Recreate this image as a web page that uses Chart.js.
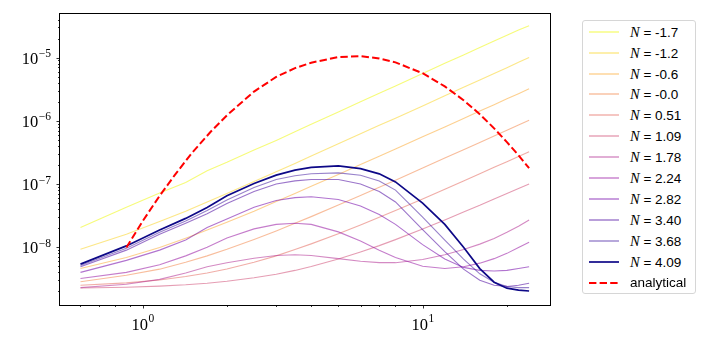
<!DOCTYPE html>
<html>
<head>
<meta charset="UTF-8">
<title>spectra</title>
<script src="https://cdn.jsdelivr.net/npm/chart.js"></script>
<style>
  body { margin: 0; background: #fff; }
  #wrap { position: relative; width: 709px; height: 346px; }
  #legend { position: absolute; left: 582px; top: 20px; width: 114px; height: 274px;
            border: 1px solid #d6d6d6; border-radius: 3px; background: #fff; box-sizing: border-box; }
  .row { position: absolute; left: 0; height: 20px; line-height: 20px; white-space: nowrap;
         font-family: "Liberation Sans", Arial, sans-serif; font-size: 13.5px; color: #000; }
  .row svg { position: absolute; left: 5px; top: 0; }
  .row span { position: absolute; left: 47px; }
  .row i { font-family: "Liberation Serif", serif; font-size: 14.5px; }
</style>
</head>
<body>
<div id="wrap">
  <canvas id="chart" width="709" height="346"></canvas>
  <div id="legend"></div>
</div>
<script>
// x positions shared by all N curves
const xValues = [0.6, 0.875, 1.15, 1.425, 1.7, 2.0, 2.5, 3.0, 3.5, 4.0, 5.0, 6.0, 7.0, 8.0, 10, 12, 14, 16, 18, 20, 22, 24];

const nLabels = ['-1.7', '-1.2', '-0.6', '-0.0', '0.51', '1.09', '1.78', '2.24', '2.82', '3.40', '3.68', '4.09'];

const yNm17 = [2.05e-8, 4.3e-8, 7.2e-8, 1.06e-7, 1.62e-7, 2.2e-7, 3.45e-7, 4.9e-7, 6.7e-7, 8.8e-7, 1.38e-6, 2.0e-6, 2.72e-6, 3.55e-6, 5.6e-6, 8.1e-6, 1.1e-5, 1.44e-5, 1.83e-5, 2.25e-5, 2.72e-5, 3.2e-5];
const yNm12 = [9.3e-9, 1.6e-8, 2.55e-8, 3.7e-8, 5.2e-8, 7.1e-8, 1.1e-7, 1.56e-7, 2.12e-7, 2.78e-7, 4.35e-7, 6.25e-7, 8.5e-7, 1.1e-6, 1.72e-6, 2.48e-6, 3.38e-6, 4.42e-6, 5.6e-6, 6.9e-6, 8.4e-6, 1.0e-5];
const yNm06 = [4.6e-9, 6.9e-9, 9.9e-9, 1.39e-8, 1.87e-8, 2.48e-8, 3.7e-8, 5.3e-8, 7.1e-8, 9.2e-8, 1.42e-7, 2.03e-7, 2.75e-7, 3.58e-7, 5.6e-7, 8.0e-7, 1.09e-6, 1.43e-6, 1.8e-6, 2.23e-6, 2.69e-6, 3.2e-6];
const yN00 = [2.85e-9, 3.6e-9, 4.5e-9, 5.8e-9, 7.3e-9, 9.3e-9, 1.33e-8, 1.81e-8, 2.39e-8, 3.05e-8, 4.65e-8, 6.6e-8, 8.9e-8, 1.15e-7, 1.79e-7, 2.57e-7, 3.49e-7, 4.55e-7, 5.75e-7, 7.1e-7, 8.6e-7, 1.02e-6];
const yN051 = [2.5e-9, 2.73e-9, 3.04e-9, 3.44e-9, 3.92e-9, 4.54e-9, 5.8e-9, 7.3e-9, 9.2e-9, 1.13e-8, 1.63e-8, 2.25e-8, 2.97e-8, 3.81e-8, 5.8e-8, 8.3e-8, 1.12e-7, 1.45e-7, 1.84e-7, 2.26e-7, 2.73e-7, 3.25e-7];
const yN109 = [2.26e-9, 2.33e-9, 2.43e-9, 2.55e-9, 2.7e-9, 2.9e-9, 3.3e-9, 3.75e-9, 4.3e-9, 4.95e-9, 6.5e-9, 8.4e-9, 1.06e-8, 1.32e-8, 1.94e-8, 2.7e-8, 3.6e-8, 4.6e-8, 5.8e-8, 7.1e-8, 8.5e-8, 1.0e-7];
const yN178 = [2.3e-9, 2.6e-9, 3.1e-9, 3.9e-9, 4.9e-9, 5.7e-9, 6.7e-9, 7.4e-9, 7.6e-9, 7.4e-9, 6.6e-9, 6.0e-9, 5.7e-9, 5.7e-9, 6.4e-9, 7.6e-9, 9.2e-9, 1.12e-8, 1.38e-8, 1.72e-8, 2.15e-8, 2.7e-8];
const yN224 = [3.2e-9, 4.0e-9, 5.3e-9, 7.3e-9, 1.0e-8, 1.4e-8, 1.95e-8, 2.3e-8, 2.4e-8, 2.3e-8, 1.75e-8, 1.25e-8, 9.0e-9, 6.9e-9, 5.0e-9, 4.6e-9, 4.9e-9, 5.6e-9, 6.6e-9, 8.0e-9, 9.9e-9, 1.2e-8];
const yN282 = [4.0e-9, 6.2e-9, 9.0e-9, 1.3e-8, 2.05e-8, 2.8e-8, 4.3e-8, 5.5e-8, 6.1e-8, 6.3e-8, 5.7e-8, 4.5e-8, 3.3e-8, 2.3e-8, 1.1e-8, 6.5e-9, 4.8e-9, 4.3e-9, 4.2e-9, 4.3e-9, 4.6e-9, 4.9e-9];
const yN340 = [4.9e-9, 9.0e-9, 1.6e-8, 2.4e-8, 3.4e-8, 4.9e-8, 7.6e-8, 1.0e-7, 1.12e-7, 1.18e-7, 1.18e-7, 1.0e-7, 7.6e-8, 5.2e-8, 1.9e-8, 8.5e-9, 4.5e-9, 3.0e-9, 2.5e-9, 2.4e-9, 2.5e-9, 2.7e-9];
const yN368 = [5.15e-9, 9.6e-9, 1.72e-8, 2.6e-8, 3.8e-8, 5.6e-8, 8.8e-8, 1.18e-7, 1.35e-7, 1.45e-7, 1.5e-7, 1.38e-7, 1.12e-7, 8.0e-8, 3.0e-8, 1.3e-8, 6.5e-9, 3.8e-9, 2.8e-9, 2.4e-9, 2.3e-9, 2.3e-9];
const yN409 = [5.4e-9, 1.05e-8, 1.87e-8, 2.86e-8, 4.27e-8, 6.5e-8, 1.02e-7, 1.38e-7, 1.66e-7, 1.83e-7, 1.93e-7, 1.75e-7, 1.45e-7, 1.08e-7, 5.0e-8, 2.3e-8, 1.0e-8, 4.6e-9, 2.8e-9, 2.25e-9, 2.1e-9, 2.03e-9];

const nSeries = [yNm17, yNm12, yNm06, yN00, yN051, yN109, yN178, yN224, yN282, yN340, yN368, yN409];

// analytical curve
const analyticalX = [0.875, 1.0, 1.15, 1.3, 1.5, 1.75, 2.0, 2.5, 3.0, 3.5, 4.0, 5.0, 6.0, 7.0, 8.0, 10, 12, 14, 16, 18, 20, 22, 24];
const analyticalY = [9.9e-9, 2.58e-8, 6.5e-8, 1.37e-7, 3.1e-7, 6.7e-7, 1.22e-6, 2.9e-6, 4.95e-6, 6.8e-6, 8.3e-6, 1.02e-5, 1.05e-5, 9.7e-6, 8.4e-6, 5.65e-6, 3.5e-6, 2.12e-6, 1.27e-6, 7.6e-7, 4.6e-7, 2.85e-7, 1.78e-7];

// axis ticks
const xMajorTicks = [1, 10];
const xTickExps = ['0', '1'];
const yMajorTicks = [1e-8, 1e-7, 1e-6, 1e-5];
const yTickExps = ['\u22128', '\u22127', '\u22126', '\u22125'];

// plasma colours, light ones drawn half transparent
const lineColors = [
  'rgba(240,249,33,0.6)', 'rgba(250,212,36,0.55)', 'rgba(252,170,52,0.55)', 'rgba(243,134,74,0.55)',
  'rgba(228,106,94,0.55)', 'rgba(208,76,116,0.55)', 'rgba(176,41,145,0.55)', 'rgba(150,19,160,0.55)',
  'rgba(113,2,167,0.55)', 'rgba(73,3,159,0.55)', 'rgba(50,5,151,0.5)', 'rgb(13,8,135)'
];

let datasets = [];
nSeries.forEach((vals, i) => {
  datasets.push({
    label: 'N = ' + nLabels[i],
    data: xValues.map((x, k) => ({ x: x, y: vals[k] })),
    borderColor: lineColors[i],
    borderWidth: i === nSeries.length - 1 ? 1.7 : 1.1,
    pointRadius: 0,
    order: 30 - i
  });
});
datasets.push({
  label: 'analytical',
  data: analyticalX.map((x, k) => ({ x: x, y: analyticalY[k] })),
  borderColor: '#ff0000',
  borderWidth: 2,
  borderDash: [7.4, 3.2],
  pointRadius: 0,
  order: 0
});

// matplotlib-like frame, ticks and 10^n labels
const axesPlugin = {
  id: 'mplAxes',
  afterDraw(chart) {
    const ctx = chart.ctx;
    const a = chart.chartArea;
    const xs = chart.scales.x, ys = chart.scales.y;
    ctx.save();
    ctx.strokeStyle = '#000';
    ctx.lineWidth = 1;
    ctx.strokeRect(Math.round(a.left) - 0.5, Math.round(a.top) - 0.5,
                   Math.round(a.right - a.left) + 1, Math.round(a.bottom - a.top) + 1);
    ctx.lineWidth = 0.8;
    function tickX(v, len) {
      const p = Math.round(xs.getPixelForValue(v)) + 0.5;
      ctx.beginPath(); ctx.moveTo(p, a.bottom); ctx.lineTo(p, a.bottom + len); ctx.stroke();
    }
    function tickY(v, len) {
      const p = Math.round(ys.getPixelForValue(v)) + 0.5;
      ctx.beginPath(); ctx.moveTo(a.left, p); ctx.lineTo(a.left - len, p); ctx.stroke();
    }
    for (let d = -1; d <= 1; d++) {
      for (let m = 2; m <= 9; m++) {
        const v = m * Math.pow(10, d);
        if (v > xs.min && v < xs.max) tickX(v, 2);
      }
    }
    for (let d = -9; d <= -5; d++) {
      for (let m = 2; m <= 9; m++) {
        const v = m * Math.pow(10, d);
        if (v > ys.min && v < ys.max) tickY(v, 2);
      }
    }
    const baseFont = '16.5px "Liberation Serif", serif';
    const supFont = '11.5px "Liberation Serif", serif';
    ctx.fillStyle = '#000';
    ctx.textBaseline = 'alphabetic';
    xMajorTicks.forEach((v, i) => {
      tickX(v, 3.5);
      const p = xs.getPixelForValue(v);
      ctx.font = baseFont;
      const w1 = ctx.measureText('10').width;
      ctx.font = supFont;
      const w2 = ctx.measureText(xTickExps[i]).width;
      const left = p - (w1 + w2) / 2;
      ctx.textAlign = 'left';
      ctx.font = baseFont;
      ctx.fillText('10', left, a.bottom + 24.5);
      ctx.font = supFont;
      ctx.fillText(xTickExps[i], left + w1 + 0.5, a.bottom + 17);
    });
    yMajorTicks.forEach((v, i) => {
      tickY(v, 3.5);
      const p = ys.getPixelForValue(v);
      const right = a.left - 9;
      ctx.font = supFont;
      const w2 = ctx.measureText(yTickExps[i]).width;
      ctx.textAlign = 'right';
      ctx.fillText(yTickExps[i], right, p - 0.5);
      ctx.font = baseFont;
      ctx.fillText('10', right - w2 - 0.5, p + 6);
    });
    ctx.restore();
  }
};

new Chart(document.getElementById('chart').getContext('2d'), {
  type: 'line',
  data: { datasets: datasets },
  options: {
    responsive: false,
    animation: false,
    layout: { padding: { left: 60, top: 14, right: 159, bottom: 41 } },
    plugins: { legend: { display: false }, tooltip: { enabled: false } },
    scales: {
      x: { type: 'logarithmic', min: 0.507, max: 28.5, display: false },
      y: { type: 'logarithmic', min: 1.22e-9, max: 4.89e-5, display: false }
    }
  },
  plugins: [axesPlugin]
});

// legend as html so N can be italic
const legend = document.getElementById('legend');
let html = '';
nLabels.forEach((lab, i) => {
  const w = i === nLabels.length - 1 ? 1.7 : 1.4;
  html += '<div class="row" style="top:' + (0.7 + 20.9 * i) + 'px">' +
    '<svg width="32" height="20"><line x1="1" y1="10" x2="31" y2="10" stroke="' + lineColors[i] +
    '" stroke-width="' + w + '"/></svg><span><i>N</i> = ' + lab + '</span></div>';
});
html += '<div class="row" style="top:' + (0.7 + 20.9 * 12) + 'px">' +
  '<svg width="32" height="20"><line x1="1" y1="10" x2="31" y2="10" stroke="#ff0000" stroke-width="2" stroke-dasharray="7.4,3.2"/></svg>' +
  '<span>analytical</span></div>';
legend.innerHTML = html;
</script>
</body>
</html>
